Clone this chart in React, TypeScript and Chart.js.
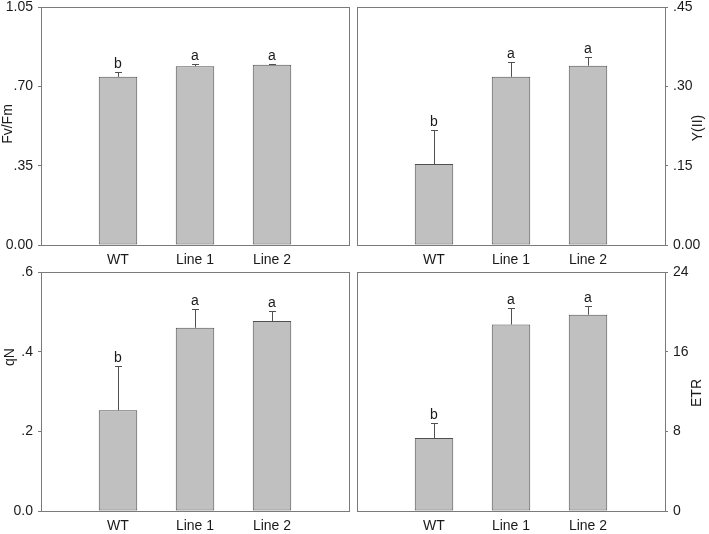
import React, { useEffect, useRef } from 'react';
import { Chart, registerables } from 'chart.js';

Chart.register(...registerables);

// ---------- data ----------
const categories = ['WT', 'Line 1', 'Line 2'];
const letters = ['b', 'a', 'a'];

const fvfmMean = [0.742, 0.789, 0.795];
const fvfmErr = [0.022, 0.010, 0.005];
const fvfmTicks = [0, 0.35, 0.7, 1.05];
const fvfmTickLabels = ['0.00', '.35', '.70', '1.05'];

const yiiMean = [0.153, 0.318, 0.339];
const yiiErr = [0.064, 0.028, 0.017];
const yiiTicks = [0, 0.15, 0.3, 0.45];
const yiiTickLabels = ['0.00', '.15', '.30', '.45'];

const qnMean = [0.253, 0.46, 0.477];
const qnErr = [0.112, 0.046, 0.026];
const qnTicks = [0, 0.2, 0.4, 0.6];
const qnTickLabels = ['0.0', '.2', '.4', '.6'];

const etrMean = [7.32, 18.73, 19.71];
const etrErr = [1.51, 1.65, 0.84];
const etrTicks = [0, 8, 16, 24];
const etrTickLabels = ['0', '8', '16', '24'];

// ---------- style ----------
const FONT = "'Liberation Sans', Arial, sans-serif";
const TEXT = '#1a1a1a';
const FRAME = '#7a7a7a';
const BAR_FILL = '#c0c0c0';
const BAR_EDGE = '#505050';
const X_H = 20;

type Side = 'left' | 'right';
interface PanelCfg {
  title: string;
  means: number[];
  errs: number[];
  ticks: number[];
  tickLabels: string[];
  side: Side;
  box: { left: number; top: number; width: number; height: number };
  area: { left: number; top: number; right: number; bottom: number };
  titleX: number;
  titleY: number;
}

const panels: PanelCfg[] = [
  {
    title: 'Fv/Fm', means: fvfmMean, errs: fvfmErr, ticks: fvfmTicks, tickLabels: fvfmTickLabels, side: 'left',
    box: { left: 0, top: 0, width: 353, height: 266 },
    area: { left: 41, top: 7, right: 349, bottom: 245 },
    titleX: 8.5, titleY: 124,
  },
  {
    title: 'Y(II)', means: yiiMean, errs: yiiErr, ticks: yiiTicks, tickLabels: yiiTickLabels, side: 'right',
    box: { left: 353, top: 0, width: 356, height: 266 },
    area: { left: 4, top: 7, right: 312, bottom: 245 },
    titleX: 345, titleY: 128,
  },
  {
    title: 'qN', means: qnMean, errs: qnErr, ticks: qnTicks, tickLabels: qnTickLabels, side: 'left',
    box: { left: 0, top: 266, width: 353, height: 268 },
    area: { left: 41, top: 6, right: 349, bottom: 245 },
    titleX: 10, titleY: 357 - 266,
  },
  {
    title: 'ETR', means: etrMean, errs: etrErr, ticks: etrTicks, tickLabels: etrTickLabels, side: 'right',
    box: { left: 353, top: 266, width: 356, height: 268 },
    area: { left: 4, top: 6, right: 312, bottom: 245 },
    titleX: 344.5, titleY: 393 - 266,
  },
];

function Panel({ cfg }: { cfg: PanelCfg }) {
  const ref = useRef<HTMLCanvasElement | null>(null);

  useEffect(() => {
    const canvas = ref.current;
    if (!canvas) return;
    const { box, area, side, ticks, tickLabels, means, errs } = cfg;

    const decor = {
      id: 'decor',
      afterDatasetsDraw(chart: any) {
        const ctx = chart.ctx;
        const meta = chart.getDatasetMeta(0);
        const ys = chart.scales.y;
        ctx.save();
        ctx.lineWidth = 1;
        ctx.strokeStyle = BAR_EDGE;
        meta.data.forEach((bar: any, i: number) => {
          const x = Math.round(bar.x) + 0.5;
          const yt = Math.round(ys.getPixelForValue(means[i] + errs[i])) + 0.5;
          ctx.beginPath();
          ctx.moveTo(x, bar.y);
          ctx.lineTo(x, yt);
          ctx.moveTo(x - 3.5, yt);
          ctx.lineTo(x + 3.5, yt);
          ctx.stroke();
          ctx.fillStyle = TEXT;
          ctx.font = `14px ${FONT}`;
          ctx.textAlign = 'center';
          ctx.textBaseline = 'alphabetic';
          ctx.fillText(letters[i], bar.x, yt - 5);
        });
        const a = chart.chartArea;
        ctx.strokeStyle = FRAME;
        ctx.strokeRect(
          Math.round(a.left) + 0.5,
          Math.round(a.top) + 0.5,
          Math.round(a.right - a.left),
          Math.round(a.bottom - a.top)
        );
        ctx.translate(cfg.titleX, cfg.titleY);
        ctx.rotate(-Math.PI / 2);
        ctx.fillStyle = TEXT;
        ctx.font = `14px ${FONT}`;
        ctx.textAlign = 'center';
        ctx.textBaseline = 'middle';
        ctx.fillText(cfg.title, 0, 0);
        ctx.restore();
      },
    };

    const chart = new Chart(canvas, {
      type: 'bar',
      data: {
        datasets: [
          {
            data: means.map((m, i) => ({ x: i + 1, y: m })),
            backgroundColor: BAR_FILL,
            borderColor: BAR_EDGE,
            borderWidth: 1,
            borderSkipped: false,
            barPercentage: 0.5,
            categoryPercentage: 1,
          } as any,
        ],
      },
      options: {
        responsive: false,
        animation: false,
        events: [],
        layout: {
          padding: {
            left: side === 'left' ? 0 : area.left,
            right: side === 'left' ? box.width - area.right : 0,
            top: area.top,
            bottom: box.height - area.bottom - X_H,
          },
        },
        plugins: { legend: { display: false }, tooltip: { enabled: false } },
        scales: {
          x: {
            type: 'linear',
            position: 'bottom',
            min: 0,
            max: 4,
            offset: false,
            grid: { display: false, drawTicks: false, offset: false },
            border: { display: false },
            afterBuildTicks: (s: any) => {
              s.ticks = categories.map((_, i) => ({ value: i + 1 }));
            },
            afterFit: (s: any) => {
              s.height = X_H;
            },
            ticks: {
              autoSkip: false,
              maxRotation: 0,
              padding: 8,
              color: TEXT,
              font: { family: FONT, size: 14, lineHeight: 1 },
              callback: (v: any) => categories[Math.round(Number(v)) - 1] ?? '',
            },
          },
          y: {
            type: 'linear',
            position: side,
            min: ticks[0],
            max: ticks[ticks.length - 1],
            grid: { display: true, drawOnChartArea: false, drawTicks: true, tickLength: 3, color: FRAME },
            border: { display: false },
            afterBuildTicks: (s: any) => {
              s.ticks = ticks.map((v) => ({ value: v }));
            },
            afterFit: (s: any) => {
              s.width = side === 'left' ? area.left : box.width - area.right;
            },
            ticks: {
              padding: 5,
              color: TEXT,
              font: { family: FONT, size: 14, lineHeight: 0.1 },
              callback: (_v: any, i: number) => tickLabels[i],
            },
          },
        } as any,
      },
      plugins: [decor],
    });
    return () => chart.destroy();
  }, [cfg]);

  return (
    <canvas
      ref={ref}
      width={cfg.box.width}
      height={cfg.box.height}
      style={{
        position: 'absolute',
        left: cfg.box.left,
        top: cfg.box.top,
        width: cfg.box.width,
        height: cfg.box.height,
      }}
    />
  );
}

export default function App() {
  return (
    <div
      style={{
        position: 'fixed',
        left: 0,
        top: 0,
        width: 709,
        height: 534,
        background: '#ffffff',
        overflow: 'hidden',
      }}
    >
      {panels.map((p) => (
        <Panel key={p.title} cfg={p} />
      ))}
    </div>
  );
}
